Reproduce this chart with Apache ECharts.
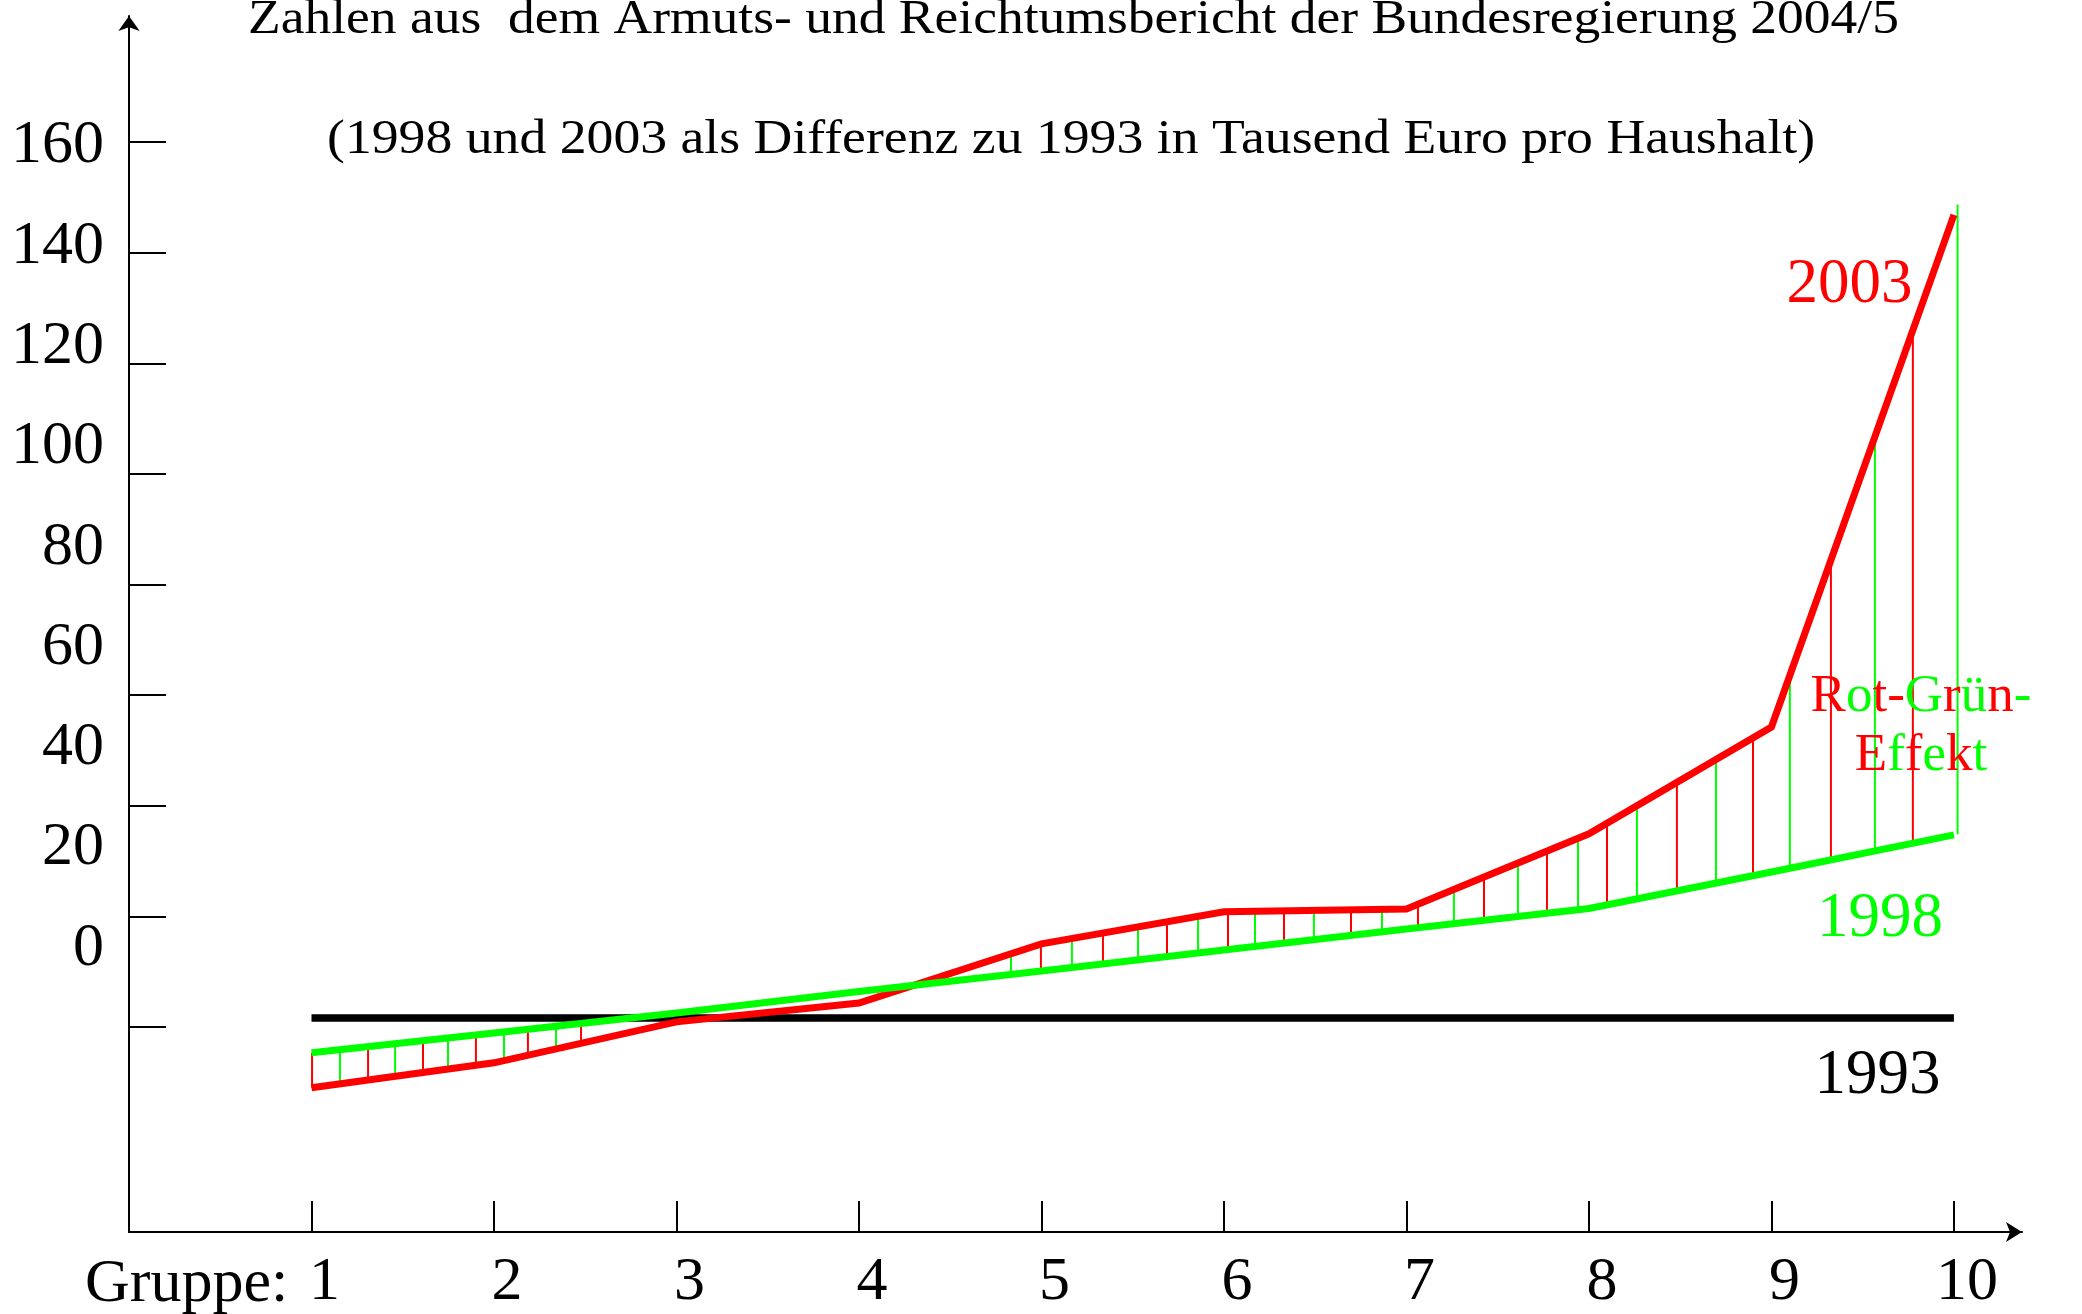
<!DOCTYPE html>
<html>
<head>
<meta charset="utf-8">
<script src="https://cdn.jsdelivr.net/npm/echarts@6/dist/echarts.min.js"></script>
<style>
html,body{margin:0;padding:0;background:#fff;}
#chart{width:2082px;height:1314px;}
</style>
</head>
<body>
<div id="chart"></div>
<script>
// ---- data ----
const groups = [1, 2, 3, 4, 5, 6, 7, 8, 9, 10];
const xTickLabels = ['1', '2', '3', '4', '5', '6', '7', '8', '9', '10'];
const yTickValues = [0, 20, 40, 60, 80, 100, 120, 140, 160];
const yTickLabels = ['0', '20', '40', '60', '80', '100', '120', '140', '160'];
const values1993 = [0, 0, 0, 0, 0, 0, 0, 0, 0, 0];
const values1998 = [-6.3, -2.7, 0.9, 4.8, 8.5, 12.3, 16.1, 19.8, 26.4, 33.1];
const values2003 = [-12.6, -8.1, -0.7, 2.7, 13.4, 19.2, 19.7, 33.3, 52.6, 145.2];
// positions (in group units) of the thin vertical "Rot-Grün-Effekt" strokes
const hatchRedX = [1.003, 1.310, 1.611, 1.901, 2.186, 2.477, 4.997, 5.337, 5.688, 6.022, 6.329, 6.696, 7.063, 7.425, 7.770, 8.099, 8.482, 8.899, 9.326, 9.775];
const hatchGreenX = [1.156, 1.458, 1.748, 2.055, 2.340, 4.833, 5.167, 5.529, 5.858, 6.170, 6.493, 6.866, 7.260, 7.611, 7.940, 8.263, 8.696, 9.101, 9.567, 10.02];
const titleLine1 = 'Zahlen aus  dem Armuts- und Reichtumsbericht der Bundesregierung 2004/5';
const titleLine2 = '(1998 und 2003 als Differenz zu 1993 in Tausend Euro pro Haushalt)';

// ---- styles ----
const FONT = '"Liberation Serif", "Times New Roman", serif';
const RED = '#ff0000', GREEN = '#00ff00', BLACK = '#000000';

function interp(vals, x) {
  let i = Math.floor(x) - 1;
  if (i < 0) i = 0;
  if (i > groups.length - 2) i = groups.length - 2;
  const x0 = groups[i], x1 = groups[i + 1];
  const t = (x - x0) / (x1 - x0);
  return vals[i] + t * (vals[i + 1] - vals[i]);
}

function hatchSeries(xs, color) {
  return {
    type: 'custom',
    xAxisIndex: 0,
    yAxisIndex: 1,
    z: 1,
    silent: true,
    data: xs.map(x => [x, 0]),
    encode: { x: 0, y: 1 },
    renderItem: function (params, api) {
      const x = api.value(0);
      const p1 = api.coord([x, interp(values1998, x)]);
      const p2 = api.coord([x, interp(values2003, x)]);
      return {
        type: 'line',
        shape: { x1: p1[0], y1: p1[1], x2: p2[0], y2: p2[1] },
        style: { stroke: color, lineWidth: 2 }
      };
    }
  };
}

const chart = echarts.init(document.getElementById('chart'), null, { renderer: 'canvas' });

const option = {
  backgroundColor: '#ffffff',
  animation: false,
  grid: { left: 129, right: 60, top: 16, bottom: 82, containLabel: false },
  xAxis: {
    type: 'value',
    min: 0,
    max: 10.373,
    axisLine: {
      show: true, onZero: false,
      symbol: ['none', 'arrow'], symbolSize: [15, 16],
      lineStyle: { color: BLACK, width: 2 }
    },
    axisTick: {
      show: true, inside: true, length: 31,
      customValues: groups,
      lineStyle: { color: BLACK, width: 2 }
    },
    axisLabel: {
      show: true,
      customValues: groups,
      formatter: v => xTickLabels[groups.indexOf(Math.round(v))] || '',
      fontFamily: FONT, fontSize: 62, color: BLACK,
      margin: 20,
      padding: [0, 0, 0, 26]
    },
    splitLine: { show: false }
  },
  yAxis: [
    { // visible axis line + tick marks
      type: 'value',
      position: 'left',
      min: -37.06,
      max: 182.78,
      axisLine: {
        show: true, onZero: false,
        symbol: ['none', 'arrow'], symbolSize: [16, 15],
        lineStyle: { color: BLACK, width: 2 }
      },
      axisTick: {
        show: true, inside: true, length: 37,
        customValues: yTickValues,
        lineStyle: { color: BLACK, width: 2 }
      },
      axisLabel: { show: false },
      splitLine: { show: false }
    },
    { // data axis: 1993 level = 0
      type: 'value',
      position: 'left',
      show: false,
      min: -38.69,
      max: 181.15,
      splitLine: { show: false }
    },
    { // tick label texts
      type: 'value',
      position: 'left',
      min: -56.52,
      max: 185.92,
      axisLine: { show: false, onZero: false },
      axisTick: { show: false },
      axisLabel: {
        show: true,
        customValues: yTickValues,
        formatter: v => yTickLabels[yTickValues.indexOf(Math.round(v))] || '',
        fontFamily: FONT, fontSize: 62, color: BLACK,
        margin: 25
      },
      splitLine: { show: false }
    }
  ],
  series: [
    hatchSeries(hatchRedX, RED),
    hatchSeries(hatchGreenX, GREEN),
    {
      name: '1993', type: 'line', xAxisIndex: 0, yAxisIndex: 1, z: 2,
      data: groups.map((g, i) => [g, values1993[i]]),
      symbol: 'none', silent: true,
      lineStyle: { color: BLACK, width: 7.5, cap: 'butt' }
    },
    {
      name: '2003', type: 'line', xAxisIndex: 0, yAxisIndex: 1, z: 3,
      data: groups.map((g, i) => [g, values2003[i]]),
      symbol: 'none', silent: true,
      lineStyle: { color: RED, width: 7, cap: 'butt', join: 'miter' }
    },
    {
      name: '1998', type: 'line', xAxisIndex: 0, yAxisIndex: 1, z: 4,
      data: groups.map((g, i) => [g, values1998[i]]),
      symbol: 'none', silent: true,
      lineStyle: { color: GREEN, width: 7, cap: 'butt', join: 'miter' }
    }
  ],
  graphic: [
    { type: 'text', x: 248, y: 20, scaleX: 1.092, silent: true,
      style: { text: titleLine1, fontFamily: FONT, fontSize: 49, fill: BLACK, align: 'left', verticalAlign: 'middle' } },
    { type: 'text', x: 327, y: 140, scaleX: 1.096, silent: true,
      style: { text: titleLine2, fontFamily: FONT, fontSize: 49, fill: BLACK, align: 'left', verticalAlign: 'middle' } },
    { type: 'text', x: 1849.5, y: 285.5, silent: true,
      style: { text: '2003', fontFamily: FONT, fontSize: 63, fill: RED, align: 'center', verticalAlign: 'middle' } },
    { type: 'text', x: 1880, y: 919.5, silent: true,
      style: { text: '1998', fontFamily: FONT, fontSize: 63, fill: GREEN, align: 'center', verticalAlign: 'middle' } },
    { type: 'text', x: 1877.5, y: 1076.5, silent: true,
      style: { text: '1993', fontFamily: FONT, fontSize: 63, fill: BLACK, align: 'center', verticalAlign: 'middle' } },
    { type: 'text', x: 1921, y: 667.5, silent: true, z: 10,
      style: {
        text: '{r|R}{g|o}{r|t}{r|-}{g|G}{r|r}{g|ü}{r|n}{g|-}\n{r|E}{g|f}{r|f}{g|e}{r|k}{g|t}',
        fontFamily: FONT, fontSize: 53, lineHeight: 59,
        align: 'center', verticalAlign: 'top',
        rich: {
          r: { fill: RED, fontFamily: FONT, fontSize: 53, lineHeight: 59 },
          g: { fill: GREEN, fontFamily: FONT, fontSize: 53, lineHeight: 59 }
        }
      } },
    { type: 'text', x: 85, y: 1285, silent: true,
      style: { text: 'Gruppe:', fontFamily: FONT, fontSize: 62, fill: BLACK, align: 'left', verticalAlign: 'middle' } }
  ]
};

chart.setOption(option);
</script>
</body>
</html>
